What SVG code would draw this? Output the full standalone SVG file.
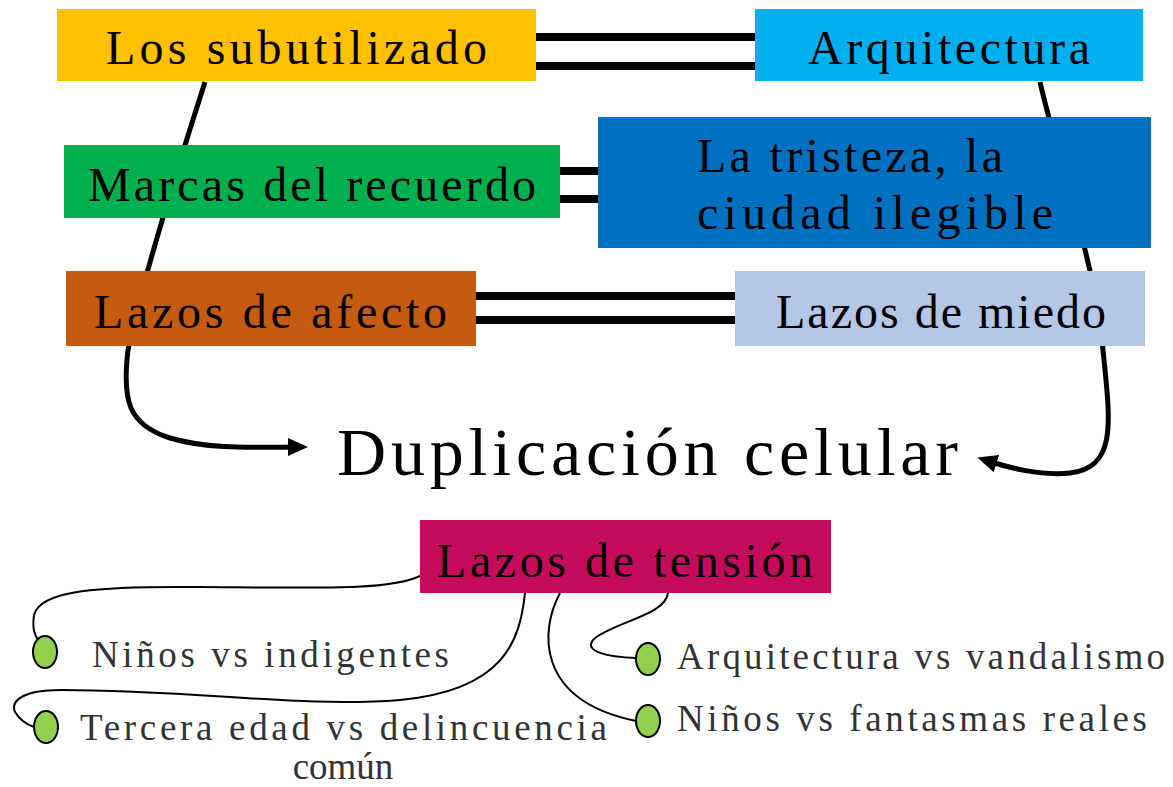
<svg xmlns="http://www.w3.org/2000/svg" width="1173" height="787" viewBox="0 0 1173 787">
<style>
.t{font-family:"Liberation Serif","DejaVu Serif",serif;fill:#000}
.big{font-size:48px}
.sm{font-size:37px;fill:#333}
.c{fill:none;stroke:#000;stroke-width:5}
.d{fill:none;stroke:#000;stroke-width:8}
.th{fill:none;stroke:#000;stroke-width:2}
.dot{fill:#92D050;stroke:#000;stroke-width:2}
</style>
<defs>
<marker id="ah" markerUnits="userSpaceOnUse" markerWidth="20" markerHeight="18" refX="12" refY="9" orient="auto">
<path d="M0,0 L20,9 L0,18 Z" fill="#000"/>
</marker>
</defs>
<g id="connectors">
<path class="c" d="M205,82 C180,160 140,290 128,350 C122,400 128,425 170,438 C210,450 260,447 300,447" marker-end="url(#ah)"/>
<path class="c" d="M1040,82 C1055,150 1095,260 1103,350 C1110,420 1118,468 1070,473 C1040,476 1010,468 985,460" marker-end="url(#ah)"/>
<line class="d" x1="536" y1="37" x2="755" y2="37"/>
<line class="d" x1="536" y1="66" x2="755" y2="66"/>
<line class="d" x1="560" y1="171" x2="598" y2="171"/>
<line class="d" x1="560" y1="199" x2="598" y2="199"/>
<line class="d" x1="476" y1="296" x2="735" y2="296"/>
<line class="d" x1="476" y1="320" x2="735" y2="320"/>
<path class="th" d="M420,576 C390,590 330,588 200,587 C100,586 40,590 34,615 C32,630 35,635 38,640"/>
<path class="th" d="M525,593 C520,640 505,690 400,700 C300,708 200,690 60,690 C25,690 10,700 15,712 C20,720 28,725 34,727"/>
<path class="th" d="M560,593 C540,630 535,700 636,721"/>
<path class="th" d="M668,593 C665,615 620,620 595,638 C580,652 610,657 636,658"/>
</g>
<g id="n1"><rect x="57" y="9" width="479" height="72" fill="#FFC000"/><text class="t big" x="106" y="64" textLength="381" lengthAdjust="spacing">Los subutilizado</text></g>
<g id="n2"><rect x="755" y="9" width="388" height="72" fill="#00B0F0"/><text class="t big" x="808" y="64" textLength="282" lengthAdjust="spacing">Arquitectura</text></g>
<g id="n3"><rect x="64" y="145" width="496" height="73" fill="#00B050"/><text class="t big" x="88" y="201" textLength="448" lengthAdjust="spacing">Marcas del recuerdo</text></g>
<g id="n4"><rect x="598" y="117" width="553" height="131" fill="#0070C0"/><text class="t big" x="697" y="172" textLength="306" lengthAdjust="spacing">La tristeza, la</text><text class="t big" x="697" y="229" textLength="356" lengthAdjust="spacing">ciudad ilegible</text></g>
<g id="n5"><rect x="66" y="271" width="410" height="75" fill="#C55A11"/><text class="t big" x="94" y="328" textLength="353" lengthAdjust="spacing">Lazos de afecto</text></g>
<g id="n6"><rect x="735" y="271" width="410" height="75" fill="#B4C7E7"/><text class="t big" x="776" y="328" textLength="330" lengthAdjust="spacing">Lazos de miedo</text></g>
<g id="n7"><text class="t" x="337" y="475" font-size="68" textLength="621" lengthAdjust="spacing">Duplicación celular</text></g>
<g id="n8"><rect x="420" y="520" width="411" height="73" fill="#C50B5C"/><text class="t big" x="437" y="577" textLength="376" lengthAdjust="spacing">Lazos de tensión</text></g>
<g id="n9"><ellipse class="dot" cx="45" cy="652" rx="12" ry="16"/><text class="t sm" x="92" y="667" textLength="357" lengthAdjust="spacing">Niños vs indigentes</text></g>
<g id="n10"><ellipse class="dot" cx="46" cy="727" rx="12" ry="16"/><text class="t sm" x="80" y="740" textLength="527" lengthAdjust="spacing">Tercera edad vs delincuencia</text><text class="t sm" x="343" y="779" text-anchor="middle" font-size="34">común</text></g>
<g id="n11"><ellipse class="dot" cx="648" cy="659" rx="12" ry="16"/><text class="t sm" x="677" y="669" textLength="488" lengthAdjust="spacing">Arquitectura vs vandalismo</text></g>
<g id="n12"><ellipse class="dot" cx="648" cy="721" rx="12" ry="16"/><text class="t sm" x="677" y="731" textLength="470" lengthAdjust="spacing">Niños vs fantasmas reales</text></g>
</svg>
